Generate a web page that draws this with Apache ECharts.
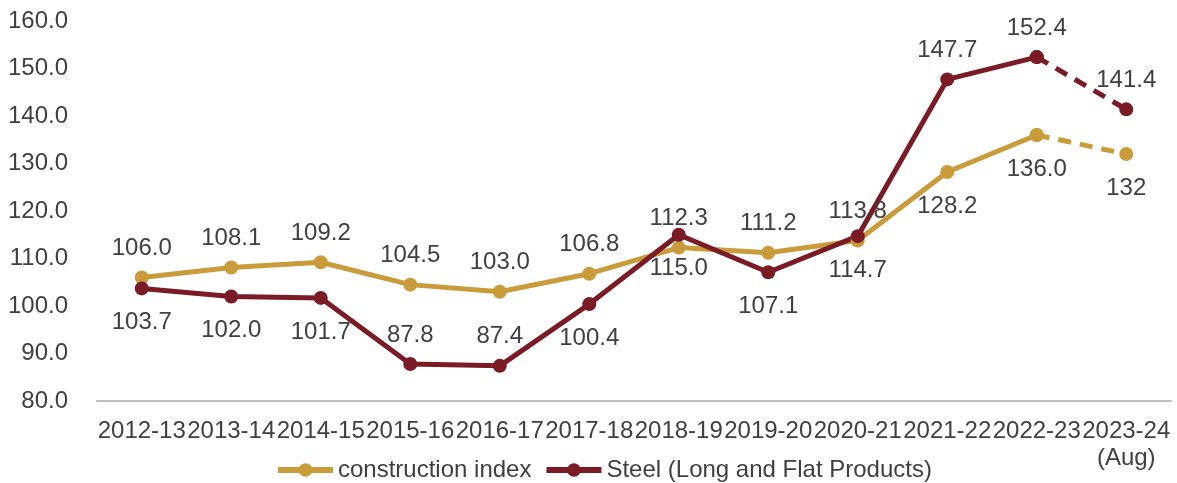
<!DOCTYPE html>
<html>
<head>
<meta charset="utf-8">
<script src="https://cdn.jsdelivr.net/npm/echarts@6/dist/echarts.min.js"></script>
<style>
html,body{margin:0;padding:0;background:#fff;}
#chart{width:1177px;height:483px;}
</style>
</head>
<body>
<div id="chart"></div>
<script>
var categories = ['2012-13','2013-14','2014-15','2015-16','2016-17','2017-18','2018-19','2019-20','2020-21','2021-22','2022-23','2023-24\n(Aug)'];
var constructionValues = [106.0,108.1,109.2,104.5,103.0,106.8,112.3,111.2,113.8,128.2,136.0,132];
var constructionLabels = ['106.0','108.1','109.2','104.5','103.0','106.8','112.3','111.2','113.8','128.2','136.0','132'];
var steelValues = [103.7,102.0,101.7,87.8,87.4,100.4,115.0,107.1,114.7,147.7,152.4,141.4];
var steelLabels = ['103.7','102.0','101.7','87.8','87.4','100.4','115.0','107.1','114.7','147.7','152.4','141.4'];
var yTicks = {min: 80, max: 160, step: 10};

// label placement: true = above the point
var constructionAbove = [true,true,true,true,true,true,true,true,true,false,false,false];
var steelAbove = [false,false,false,true,true,false,false,false,false,true,true,true];

var GOLD = '#C99B3A';
var RED = '#7A1B26';
var TEXT = '#404040';
var FONT = 'Liberation Sans, Arial, sans-serif';
var FS = 24;
var n = categories.length;
var splitIdx = n - 2; // dashed segment starts here

function buildData(values, labels, aboveArr, part) {
  return values.map(function (v, i) {
    var inSolid = i <= splitIdx;
    var inDashed = i >= splitIdx;
    if (part === 'solid' && !inSolid) return null;
    if (part === 'dashed' && !inDashed) return null;
    var above = aboveArr[i];
    var showLabel = (part === 'solid') ? inSolid : (i > splitIdx);
    return {
      value: v,
      label: {
        show: showLabel,
        position: above ? 'top' : 'bottom',
        distance: above ? 10 : 15,
        formatter: labels[i]
      }
    };
  });
}

function lineSeries(name, color, values, labels, aboveArr, part) {
  return {
    name: name,
    type: 'line',
    data: buildData(values, labels, aboveArr, part),
    symbol: 'circle',
    symbolSize: 14,
    connectNulls: false,
    itemStyle: {color: color},
    lineStyle: {color: color, width: 5, type: part === 'dashed' ? [13, 9] : 'solid'},
    label: {color: TEXT, fontSize: FS, fontFamily: FONT},
    emphasis: {disabled: true},
    animation: false
  };
}

var chart = echarts.init(document.getElementById('chart'));
chart.setOption({
  backgroundColor: '#fff',
  animation: false,
  grid: {left: 97, right: 6, top: 21, bottom: 82, containLabel: false},
  legend: {
    data: ['construction index', 'Steel (Long and Flat Products)'],
    top: 453,
    left: 270,
    itemWidth: 55,
    itemHeight: 17,
    itemGap: 12,
    lineStyle: {width: 6},
    textStyle: {color: TEXT, fontSize: FS, fontFamily: FONT}
  },
  xAxis: {
    type: 'category',
    data: categories,
    boundaryGap: true,
    axisLine: {lineStyle: {color: '#BFBFBF', width: 2}},
    axisTick: {show: false},
    axisLabel: {interval: 0, color: TEXT, fontSize: FS, fontFamily: FONT, margin: 17, lineHeight: 27}
  },
  yAxis: {
    type: 'value',
    min: yTicks.min,
    max: yTicks.max,
    interval: yTicks.step,
    splitLine: {show: false},
    axisLine: {show: false},
    axisTick: {show: false},
    axisLabel: {color: TEXT, fontSize: FS, fontFamily: FONT, margin: 29,
      formatter: function (v) { return v.toFixed(1); }}
  },
  series: [
    lineSeries('construction index', GOLD, constructionValues, constructionLabels, constructionAbove, 'solid'),
    lineSeries('construction index (est.)', GOLD, constructionValues, constructionLabels, constructionAbove, 'dashed'),
    lineSeries('Steel (Long and Flat Products)', RED, steelValues, steelLabels, steelAbove, 'solid'),
    lineSeries('Steel (est.)', RED, steelValues, steelLabels, steelAbove, 'dashed')
  ]
});
</script>
</body>
</html>
